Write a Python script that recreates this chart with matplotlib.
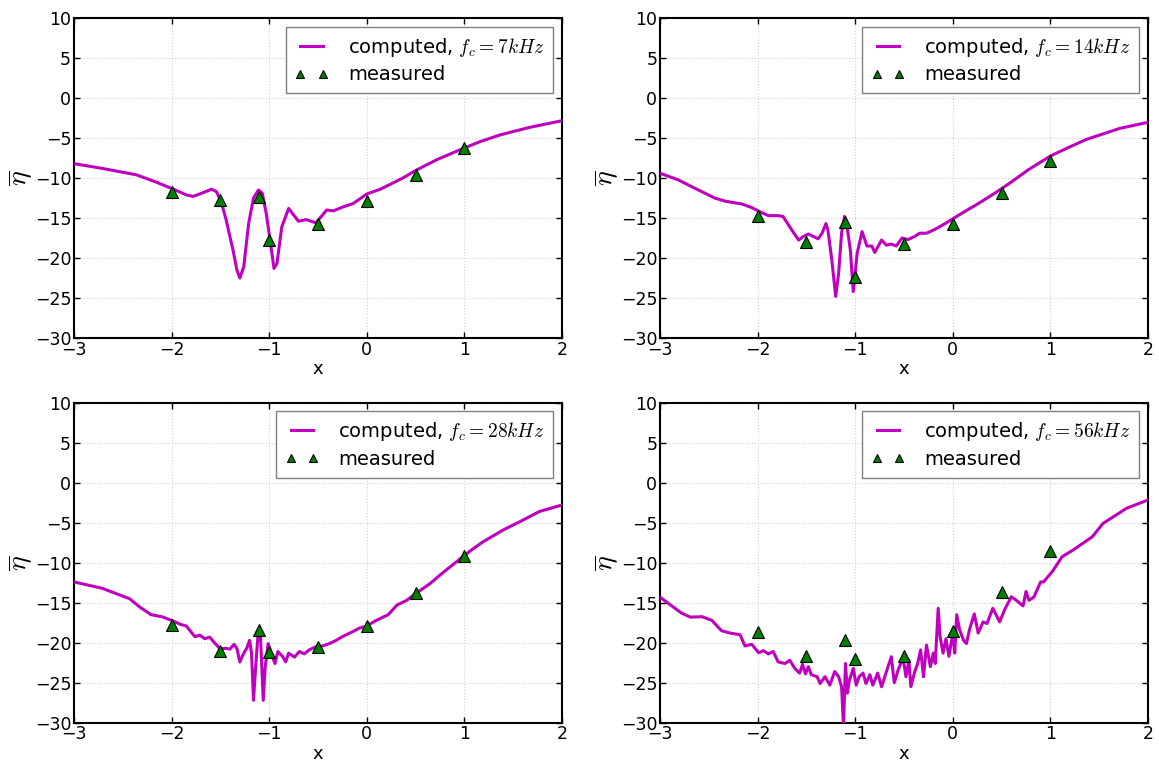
import matplotlib
matplotlib.use("Agg")
import matplotlib.pyplot as plt

plt.rcParams['mathtext.fontset'] = 'cm'
plt.rcParams['font.family'] = ['DejaVu Sans']

# ---- data ----
meas_x = [-2.0, -1.5, -1.1, -1.0, -0.5, 0.0, 0.5, 1.0]

meas_7 = [-11.8, -12.8, -12.4, -17.7, -15.8, -12.9, -9.6, -6.3]
meas_14 = [-14.8, -18.0, -15.5, -22.4, -18.3, -15.8, -11.9, -7.9]
meas_28 = [-17.8, -21.0, -18.4, -21.2, -20.5, -17.9, -13.8, -9.1]
meas_56 = [-18.7, -21.6, -19.7, -22.0, -21.6, -18.5, -13.6, -8.5]

x7 = [-3.0, -2.71, -2.36, -2.16, -2.0, -1.85, -1.78, -1.67, -1.59, -1.54, -1.49, -1.44,
      -1.37, -1.33, -1.30, -1.26, -1.21, -1.16, -1.11, -1.07, -1.03, -0.99, -0.95, -0.92,
      -0.87, -0.80, -0.75, -0.70, -0.62, -0.52, -0.41, -0.34, -0.24, -0.14, 0.0, 0.14,
      0.37, 0.51, 0.72, 0.99, 1.16, 1.37, 1.67, 2.0]
y7 = [-8.2, -8.8, -9.6, -10.5, -11.3, -12.1, -12.3, -11.8, -11.4, -11.7, -13.0, -15.25,
      -19.0, -21.5, -22.5, -21.1, -15.7, -12.5, -11.5, -11.9, -14.4, -17.75, -21.3, -20.7,
      -16.1, -13.8, -14.6, -15.4, -15.2, -15.6, -14.0, -14.1, -13.6, -13.2, -12.0, -11.4,
      -10.0, -9.0, -7.7, -6.3, -5.46, -4.6, -3.67, -2.84]

x14 = [-3.0, -2.81, -2.64, -2.44, -2.33, -2.16, -2.06, -1.98, -1.89, -1.79, -1.74, -1.65,
       -1.58, -1.53, -1.48, -1.43, -1.38, -1.34, -1.30, -1.28, -1.24, -1.20, -1.17, -1.14,
       -1.11, -1.09, -1.05, -1.02, -0.98, -0.93, -0.88, -0.83, -0.80, -0.73, -0.68, -0.63,
       -0.58, -0.52, -0.46, -0.39, -0.34, -0.27, -0.18, -0.08, 0.0, 0.12, 0.26, 0.43,
       0.60, 0.77, 1.0, 1.20, 1.37, 1.71, 2.0]
y14 = [-9.4, -10.25, -11.3, -12.5, -12.9, -13.25, -13.7, -14.2, -14.7, -14.7, -14.8, -16.5,
       -17.75, -17.3, -17.0, -17.3, -17.6, -16.9, -15.7, -16.5, -20.25, -24.8, -21.9, -16.9,
       -14.8, -15.5, -19.0, -24.2, -19.4, -16.7, -18.5, -18.5, -19.3, -17.75, -18.4, -18.25,
       -18.5, -17.5, -17.7, -17.3, -16.9, -16.9, -16.4, -15.7, -15.1, -14.2, -13.2, -11.9,
       -10.5, -9.0, -7.25, -6.1, -5.17, -3.8, -3.04]

x28 = [-3.0, -2.71, -2.43, -2.33, -2.21, -2.10, -2.0, -1.91, -1.85, -1.76, -1.71, -1.66,
       -1.61, -1.56, -1.50, -1.45, -1.40, -1.36, -1.33, -1.30, -1.26, -1.23, -1.20, -1.18,
       -1.16, -1.14, -1.11, -1.09, -1.06, -1.04, -1.01, -0.98, -0.94, -0.91, -0.86, -0.83,
       -0.80, -0.74, -0.69, -0.64, -0.59, -0.52, -0.45, -0.38, -0.32, -0.25, -0.14, -0.08,
       0.0, 0.10, 0.22, 0.31, 0.41, 0.51, 0.65, 0.78, 0.99, 1.075, 1.19, 1.40, 1.57,
       1.77, 2.0]
y28 = [-12.4, -13.2, -14.5, -15.5, -16.5, -16.75, -17.2, -17.7, -17.9, -19.25, -19.05, -19.5,
       -19.3, -20.0, -20.8, -20.7, -20.8, -20.2, -20.7, -22.4, -21.3, -20.7, -19.7, -21.3,
       -27.2, -23.4, -18.4, -18.8, -27.2, -23.0, -20.1, -21.3, -22.6, -21.1, -21.75, -22.4,
       -21.3, -21.8, -21.1, -21.4, -20.9, -20.5, -20.4, -20.1, -19.75, -19.25, -18.6, -18.2,
       -17.9, -17.2, -16.5, -15.3, -14.7, -13.8, -12.6, -11.25, -9.2, -8.4, -7.4, -5.9, -4.87,
       -3.6, -2.79]

x56 = [-3.0, -2.88, -2.78, -2.69, -2.57, -2.47, -2.37, -2.28, -2.18, -2.13, -2.06, -1.99,
       -1.94, -1.89, -1.84, -1.79, -1.72, -1.67, -1.62, -1.57, -1.54, -1.51, -1.48, -1.45,
       -1.39, -1.36, -1.31, -1.26, -1.21, -1.17, -1.14, -1.12, -1.10, -1.08, -1.06, -1.02,
       -0.99, -0.96, -0.92, -0.89, -0.85, -0.82, -0.77, -0.73, -0.68, -0.63, -0.60, -0.56,
       -0.51, -0.48, -0.45, -0.43, -0.39, -0.36, -0.33, -0.30, -0.27, -0.23, -0.20, -0.18,
       -0.15, -0.13, -0.10, -0.07, -0.04, 0.0, 0.02, 0.04, 0.07, 0.11, 0.14, 0.17, 0.22,
       0.26, 0.31, 0.35, 0.41, 0.48, 0.53, 0.60, 0.64, 0.72, 0.75, 0.78, 0.83, 0.90, 0.93,
       1.02, 1.12, 1.235, 1.43, 1.54, 1.78, 2.0]
y56 = [-14.3, -15.4, -16.3, -16.8, -16.75, -17.2, -18.5, -18.8, -19.0, -20.4, -20.2, -21.25,
       -21.0, -21.4, -21.1, -22.4, -22.6, -22.2, -23.2, -23.8, -22.7, -23.9, -23.0, -24.0,
       -24.25, -25.1, -24.25, -25.3, -23.6, -24.25, -25.5, -30.5, -22.6, -26.3, -24.7, -23.2,
       -25.3, -24.25, -23.8, -25.1, -24.0, -25.3, -23.8, -25.5, -23.6, -21.75, -25.0, -23.4,
       -21.9, -24.25, -22.2, -25.5, -23.6, -22.6, -20.9, -24.25, -20.3, -23.0, -21.3, -22.6,
       -15.7, -19.25, -21.3, -19.5, -21.7, -18.8, -21.3, -16.5, -18.4, -19.7, -20.1, -18.4, -16.4,
       -18.8, -17.4, -17.6, -15.7, -17.4, -15.9, -14.25, -14.6, -15.4, -13.6, -14.7, -14.3, -12.4, -12.4,
       -11.1, -9.25, -8.4, -6.75, -5.08, -3.2, -2.16]

panels = [
    (x7, y7, meas_7, r'computed, $f_c=7kHz$'),
    (x14, y14, meas_14, r'computed, $f_c=14kHz$'),
    (x28, y28, meas_28, r'computed, $f_c=28kHz$'),
    (x56, y56, meas_56, r'computed, $f_c=56kHz$'),
]

fig = plt.figure(figsize=(11.59, 7.66), dpi=100)
lefts = [0.0638, 0.5695, 0.0638, 0.5695]
bottoms = [0.5587, 0.5587, 0.0565, 0.0565]
w = 0.421
h = 0.4178

for i, (cx, cy, my, lab) in enumerate(panels):
    ax = fig.add_axes([lefts[i], bottoms[i], w, h])
    ax.plot(cx, cy, color=(0.75, 0, 0.75), lw=2.2, label=lab, zorder=3)
    ax.plot(meas_x, my, linestyle='none', marker='^', markersize=8,
            markerfacecolor=(0, 0.5, 0), markeredgecolor='black', markeredgewidth=0.8,
            label='measured', zorder=4)
    ax.set_xlim(-3, 2)
    ax.set_ylim(-30, 10)
    ax.set_xticks([-3, -2, -1, 0, 1, 2])
    ax.set_yticks([-30, -25, -20, -15, -10, -5, 0, 5, 10])
    ax.grid(True, color='#d0d0d0', linestyle=':', linewidth=0.8)
    ax.set_axisbelow(True)
    for s in ax.spines.values():
        s.set_linewidth(1.5)
    ax.tick_params(direction='in', length=4, width=1, top=True, right=True,
                   labelsize=12.5, pad=2)
    ax.set_xlabel('x', fontsize=13, labelpad=1)
    ax.set_ylabel(r'$\overline{\eta}$', fontsize=20, labelpad=0)
    leg = ax.legend(loc='upper right', numpoints=2, fontsize=14, fancybox=False,
                    handlelength=1.75, handletextpad=1.0, borderpad=0.45,
                    labelspacing=0.35, framealpha=1.0, markerscale=0.75,
                    borderaxespad=0.45)
    leg.get_frame().set_edgecolor('#808080')
    leg.get_frame().set_linewidth(1.0)

fig.savefig('out.png', dpi=100)
